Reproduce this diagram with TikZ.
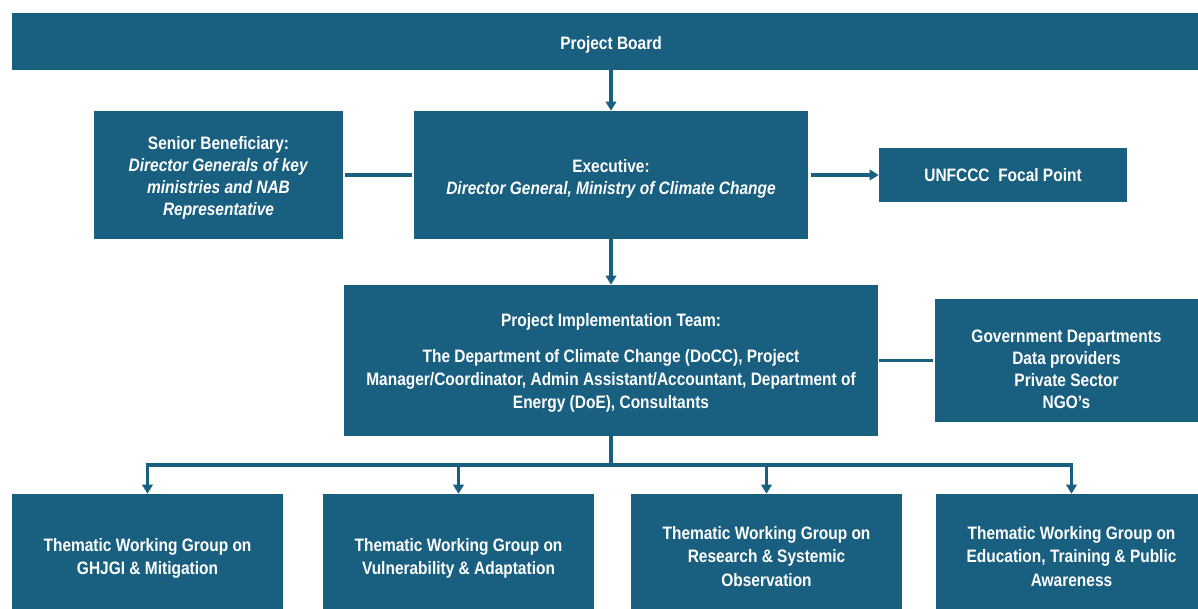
\documentclass[tikz,border=0pt]{standalone}
\usepackage{fontspec}
\setmainfont{Liberation Sans}[FakeStretch=0.86]
\usetikzlibrary{arrows.meta}

\definecolor{boxblue}{RGB}{24,95,128}
\newcommand{\boxfont}{\fontsize{12.8}{15.6}\selectfont}
% taller first line pushes the text block down
\newcommand{\topgap}[1]{\rule{0pt}{#1}}

\tikzset{
  box/.style={fill=boxblue, text=white, font=\boxfont\bfseries, align=center, inner sep=0pt},
  loose/.style={font=\fontsize{12.8}{16.6}\selectfont\bfseries},
  link/.style={draw=boxblue, line width=2.2pt},
}

\begin{document}
\begin{tikzpicture}[x=0.025cm, y=-0.025cm, >={Triangle[width=7.5pt,length=6.5pt]}]
  \useasboundingbox (0,0) rectangle (1198,609);

  % governance
  \node[box, minimum width=29.95cm, minimum height=1.425cm] (board) at (611,41.5) {\topgap{13.6pt}Project Board};
  \node[box, minimum width=6.225cm, minimum height=3.2cm] (senior) at (218.5,175)
    {\topgap{13.6pt}Senior Beneficiary:\\ \textit{Director Generals of key}\\ \textit{ministries and NAB}\\ \textit{Representative}};
  \node[box, minimum width=9.85cm, minimum height=3.2cm] (exec) at (611,175)
    {\topgap{14.2pt}Executive:\\ \textit{Director General, Ministry of Climate Change}};
  \node[box, minimum width=6.2cm, minimum height=1.325cm] (focal) at (1003,175) {UNFCCC~ Focal Point};

  % implementation
  \node[box, loose, minimum width=13.325cm, minimum height=3.775cm] (pit) at (611,360.5)
    {\topgap{12.5pt}Project Implementation Team:\\[9pt]
     The Department of Climate Change (DoCC), Project\\
     Manager/Coordinator, Admin Assistant/Accountant, Department of\\
     Energy (DoE), Consultants};
  \node[box, minimum width=6.575cm, minimum height=3.05cm] (gov) at (1066.5,360.5)
    {\topgap{22pt}Government Departments\\ Data providers\\ Private Sector\\ NGO’s};

  % working groups
  \node[box, loose, minimum width=6.775cm, minimum height=3.125cm] (tg1) at (147.5,556.5)
    {\topgap{12.2pt}Thematic Working Group on\\ GHJGI \& Mitigation};
  \node[box, loose, minimum width=6.775cm, minimum height=3.125cm] (tg2) at (458.5,556.5)
    {\topgap{12.2pt}Thematic Working Group on\\ Vulnerability \& Adaptation};
  \node[box, loose, minimum width=6.775cm, minimum height=3.125cm] (tg3) at (766.5,556.5)
    {Thematic Working Group on\\ Research \& Systemic\\ Observation};
  \node[box, loose, minimum width=6.775cm, minimum height=3.125cm] (tg4) at (1071.5,556.5)
    {Thematic Working Group on\\ Education, Training \& Public\\ Awareness};

  \draw[link, ->] (board) -- (exec);
  \draw[link, shorten <=0.05cm, shorten >=0.05cm] (senior) -- (exec);
  \draw[link, ->, shorten <=0.075cm] (exec) -- (focal);
  \draw[link, ->] (exec) -- (pit);
  \draw[link, shorten <=0.03cm, shorten >=0.05cm] (pit) -- (gov);

  \coordinate (bus) at (611,465);
  \draw[link] (pit) -- (bus);
  \foreach \g in {tg1,tg2,tg3,tg4}
    \draw[link, ->] (bus) -| (\g);
\end{tikzpicture}
\end{document}
